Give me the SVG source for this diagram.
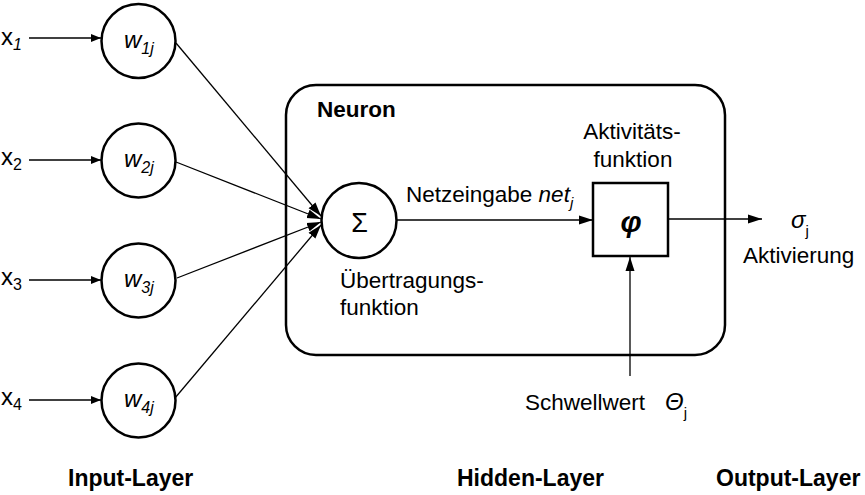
<svg xmlns="http://www.w3.org/2000/svg" width="865" height="495" viewBox="0 0 865 495">
<style>
text{font-family:"Liberation Sans",Arial,sans-serif;fill:#000}
.t{font-size:22.5px}
.it{font-style:italic}
.b{font-weight:bold}
.node{fill:#fff;stroke:#000;stroke-width:2.5}
.con{stroke:#000;stroke-width:1.3;fill:none}
</style>
<defs>
<marker id="ah" viewBox="0 0 10 10" refX="10" refY="5" markerWidth="10" markerHeight="10" markerUnits="userSpaceOnUse" orient="auto">
<path d="M0,1 L10,5 L0,9 z" fill="#000"/>
</marker>
<marker id="ah2" viewBox="0 0 14 10" refX="14" refY="5" markerWidth="14" markerHeight="10" markerUnits="userSpaceOnUse" orient="auto">
<path d="M0,0.5 L14,5 L0,9.5 z" fill="#000"/>
</marker>
</defs>
<g id="neuron">
<rect x="286" y="85" width="439" height="270" rx="30" ry="30" fill="none" stroke="#000" stroke-width="2.5"/>
<text x="317" y="117" class="b" font-size="22.5">Neuron</text>
</g>
<g id="connectors">
<line class="con" x1="29" y1="38" x2="101" y2="38" marker-end="url(#ah)"/>
<line class="con" x1="29" y1="160" x2="101" y2="160" marker-end="url(#ah)"/>
<line class="con" x1="29" y1="280" x2="101" y2="280" marker-end="url(#ah)"/>
<line class="con" x1="29" y1="400" x2="101" y2="400" marker-end="url(#ah)"/>
<line class="con" x1="176" y1="43" x2="321" y2="216" marker-end="url(#ah2)"/>
<line class="con" x1="176" y1="162" x2="321" y2="219" marker-end="url(#ah2)"/>
<line class="con" x1="177" y1="278" x2="321" y2="222" marker-end="url(#ah2)"/>
<line class="con" x1="175" y1="398" x2="321" y2="225" marker-end="url(#ah2)"/>
<line class="con" x1="397" y1="220" x2="593" y2="220" marker-end="url(#ah2)"/>
<line class="con" x1="668" y1="219" x2="762" y2="219" marker-end="url(#ah2)"/>
<line class="con" x1="630" y1="376" x2="630" y2="257" marker-end="url(#ah2)"/>
</g>
<g id="x1"><text font-size="24" x="1" y="45">x<tspan class="it" font-size="16" dy="5">1</tspan></text></g>
<g id="x2"><text font-size="24" x="1" y="165">x<tspan font-size="16" dy="5">2</tspan></text></g>
<g id="x3"><text font-size="24" x="1" y="285">x<tspan font-size="16" dy="5">3</tspan></text></g>
<g id="x4"><text font-size="24" x="1" y="405">x<tspan font-size="16" dy="5">4</tspan></text></g>
<g id="w1"><circle class="node" cx="138.5" cy="41" r="37"/><text class="it" font-size="24" x="124" y="48">w<tspan font-size="16" dy="6">1j</tspan></text></g>
<g id="w2"><circle class="node" cx="138.5" cy="160.5" r="37"/><text class="it" font-size="24" x="124" y="167">w<tspan font-size="16" dy="6">2j</tspan></text></g>
<g id="w3"><circle class="node" cx="138.5" cy="280.5" r="37"/><text class="it" font-size="24" x="124" y="287">w<tspan font-size="16" dy="6">3j</tspan></text></g>
<g id="w4"><circle class="node" cx="138.5" cy="400.5" r="37"/><text class="it" font-size="24" x="124" y="407">w<tspan font-size="16" dy="6">4j</tspan></text></g>
<g id="sum">
<circle class="node" cx="359" cy="220.5" r="37.5"/>
<text x="359.5" y="232" font-size="27" text-anchor="middle">Σ</text>
<text class="t" x="340" y="288">Übertragungs-</text>
<text class="t" x="340" y="315">funktion</text>
</g>
<text class="t" x="406" y="202">Netzeingabe <tspan class="it">net</tspan><tspan class="it" font-size="15" dy="6">j</tspan></text>
<g id="phi">
<rect x="593" y="183" width="75" height="73" fill="#fff" stroke="#000" stroke-width="2.5"/>
<text x="631" y="232" font-size="30" font-style="italic" font-weight="bold" text-anchor="middle">φ</text>
<text class="t" x="632" y="139" text-anchor="middle">Aktivitäts-</text>
<text class="t" x="633" y="167" text-anchor="middle">funktion</text>
</g>
<g id="output">
<text class="it" font-size="24" x="791" y="228">σ<tspan font-style="normal" font-size="15" dy="8">j</tspan></text>
<text class="t" x="743" y="263">Aktivierung</text>
</g>
<g id="threshold">
<text class="t" x="525" y="410">Schwellwert</text>
<text class="it" font-size="24" x="665" y="410">Θ<tspan font-style="normal" font-size="15" dy="8">j</tspan></text>
</g>
<text class="b" font-size="23" x="68" y="486">Input-Layer</text>
<text class="b" font-size="23" x="457" y="486">Hidden-Layer</text>
<text class="b" font-size="23" x="716" y="486">Output-Layer</text>
</svg>
